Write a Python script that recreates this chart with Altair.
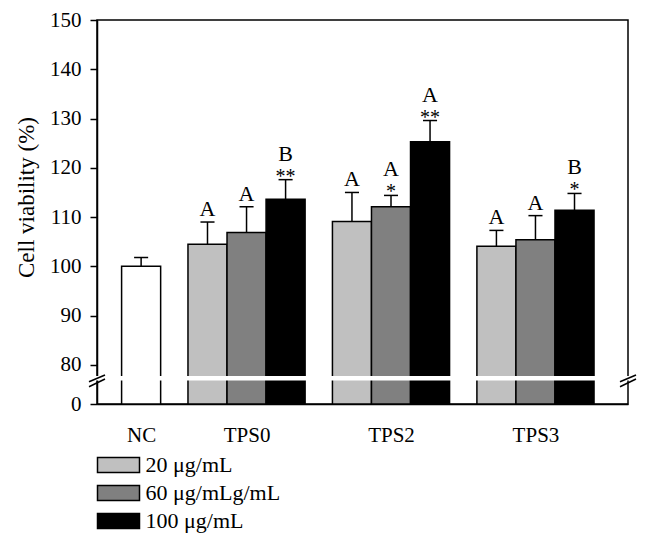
import altair as alt
import pandas as pd

# ---------------- data ----------------
groups = ["TPS0", "TPS2", "TPS3"]
series = ["20 μg/mL", "60 μg/mLg/mL", "100 μg/mL"]
colors = ["#c0c0c0", "#808080", "#000000"]

mean_20 = [104.5, 109.1, 104.1]
mean_60 = [106.9, 112.1, 105.4]
mean_100 = [113.6, 125.3, 111.4]
sd_20 = [4.5, 5.9, 3.2]
sd_60 = [5.2, 2.3, 4.9]
sd_100 = [4.0, 4.3, 3.4]
letter_20 = ["A", "A", "A"]
letter_60 = ["A", "A", "A"]
letter_100 = ["B", "A", "B"]
stars_20 = ["", "", ""]
stars_60 = ["", "*", ""]
stars_100 = ["**", "**", "*"]

nc_label = ["NC"]
nc_mean = [100.0]
nc_sd = [1.8]

# broken axis: 0..80 squeezed into a short segment
D0 = 72.07
def disp(v):
    return v if v >= 80 else D0 + v * (80 - D0) / 80

ytick_real = [0, 20] + list(range(80, 151, 5))
yvals = [disp(v) for v in ytick_real]

means = [mean_20, mean_60, mean_100]
sds = [sd_20, sd_60, sd_100]
letters = [letter_20, letter_60, letter_100]
stars = [stars_20, stars_60, stars_100]

rows = []
for gi, g in enumerate(groups):
    for si, s in enumerate(series):
        rows.append(dict(group=g, gi=gi, series=s, si=si, mean=means[si][gi],
                         sd=sds[si][gi], letter=letters[si][gi], stars=stars[si][gi]))
df = pd.DataFrame(rows)
nc_df = pd.DataFrame({"group": nc_label, "mean": nc_mean, "sd": nc_sd})

FONT = "Liberation Serif"

group_centers = [1.13, 3.83, 7.53, 11.23]
xscale = alt.Scale(domain=[0, 13.6], nice=False, zero=False)
xaxis = alt.Axis(title=None, values=group_centers, ticks=False, tickSize=0, labelPadding=20,
                 labelExpr="datum.value < 2 ? 'NC' : datum.value < 5 ? 'TPS0' : datum.value < 9 ? 'TPS2' : 'TPS3'",
                 labelFontSize=21, grid=False)
yscale = alt.Scale(domain=[D0, 150], nice=False, zero=False)
yaxis = alt.Axis(title="Cell viability (%)", values=yvals, grid=False,
                 labelExpr="datum.value < 73 ? '0' : (datum.value % 10 == 0 ? '' + datum.value : '')",
                 tickSize={"condition": {"test": "datum.value < 73 || datum.value % 10 == 0", "value": 7}, "value": 4},
                 labelPadding=9, labelFontSize=21, titleFontSize=23, titleFontWeight="normal",
                 titleX=-71, titleY=177, titleAngle=-90, titleBaseline="middle", titleAlign="center",
                 zindex=0)

def X(f):
    return alt.X(f, type="quantitative", scale=xscale, axis=xaxis)

def Y(f):
    return alt.Y(f, type="quantitative", scale=yscale, axis=yaxis)

def fmap(v):
    return f"(datum.{v} >= 80 ? datum.{v} : {D0} + datum.{v} * {(80 - D0) / 80})"

base = alt.Chart(df).transform_calculate(
    x0="0.63 + 1 + 0.7 + datum.gi * 3.7 + datum.si",
).transform_calculate(
    x1="datum.x0 + 1", xc="datum.x0 + 0.5",
    cl="datum.x0 + 0.32", cr="datum.x0 + 0.68",
    raw_top="datum.mean + datum.sd", zero_v="0",
).transform_calculate(
    ymean=fmap("mean"), ytop=fmap("raw_top"), ybase=fmap("zero_v"),
)

nc_base = alt.Chart(nc_df).transform_calculate(
    x0="0.63", x1="1.63", xc="1.13", cl="0.95", cr="1.31",
    raw_top="datum.mean + datum.sd", zero_v="0",
).transform_calculate(
    ymean=fmap("mean"), ytop=fmap("raw_top"), ybase=fmap("zero_v"),
)

# wide rectangular swatch: 42 x 15 px, drawn with a 15px symbol size
legend = alt.Legend(title=None, orient="none", legendX=10.5, legendY=434, direction="vertical",
                    symbolType="M-2.8,-1L2.8,-1L2.8,1L-2.8,1Z", symbolSize=225,
                    symbolStrokeColor="black", symbolStrokeWidth=1.5, symbolOpacity=1,
                    labelFont=FONT, labelFontSize=22, labelColor="black", labelOffset=16,
                    rowPadding=6, padding=0, offset=0)

bars = base.mark_bar(stroke="black", strokeWidth=1.5, opacity=1).encode(
    x=X("x0"), x2="x1:Q", y=Y("ymean"), y2="ybase:Q",
    color=alt.Color("series:N", scale=alt.Scale(domain=series, range=colors), legend=legend),
)
err = base.mark_rule(color="black", strokeWidth=1.5).encode(x=X("xc"), y=Y("ymean"), y2="ytop:Q")
cap = base.mark_rule(color="black", strokeWidth=1.5).encode(x=X("cl"), x2="cr:Q", y=Y("ytop"))

nc_bar = nc_base.mark_bar(fill="white", stroke="black", strokeWidth=1.5).encode(
    x=X("x0"), x2="x1:Q", y=Y("ymean"), y2="ybase:Q")
nc_err = nc_base.mark_rule(color="black", strokeWidth=1.5).encode(x=X("xc"), y=Y("ymean"), y2="ytop:Q")
nc_cap = nc_base.mark_rule(color="black", strokeWidth=1.5).encode(x=X("cl"), x2="cr:Q", y=Y("ytop"))

star_txt = base.transform_filter("datum.stars != ''").mark_text(
    font=FONT, fontSize=20, color="black", baseline="alphabetic", dy=3).encode(
    x=X("xc"), y=Y("ytop"), text="stars:N")
letter_star = base.transform_filter("datum.stars != ''").mark_text(
    font=FONT, fontSize=22, color="black", baseline="alphabetic", dy=-19).encode(
    x=X("xc"), y=Y("ytop"), text="letter:N")
letter_plain = base.transform_filter("datum.stars == ''").mark_text(
    font=FONT, fontSize=22, color="black", baseline="alphabetic", dy=-6).encode(
    x=X("xc"), y=Y("ytop"), text="letter:N")

band = alt.Chart(nc_df).mark_rect(color="white", opacity=1).encode(
    x=alt.value(-3), x2=alt.value(534), y=alt.datum(77.76), y2=alt.datum(76.85))

def slash(xl, xr, yl, yr):
    return alt.Chart(nc_df).mark_rule(color="black", strokeWidth=1.5).encode(
        x=alt.value(xl), x2=alt.value(xr), y=alt.datum(yl), y2=alt.datum(yr))

W = 531
slashes = [
    slash(-8, 8, 76.59, 77.95), slash(-8, 8, 75.57, 77.14),
    slash(W - 8, W + 8, 76.59, 77.95), slash(W - 8, W + 8, 75.57, 77.14),
]

chart = alt.layer(
    nc_bar, bars, nc_err, err, nc_cap, cap, band, *slashes, star_txt, letter_star, letter_plain
).properties(
    width=W, height=384,
    autosize=alt.AutoSizeParams(type="none"),
    padding={"left": 89, "top": 12, "right": 14, "bottom": 135},
).configure_view(
    stroke="black", strokeWidth=1.5
).configure_axis(
    domainColor="black", domainWidth=1.5, tickColor="black", tickWidth=1.5,
    labelColor="black", titleColor="black", labelFont=FONT, titleFont=FONT,
)

chart.save("out.html", embed_options={"renderer": "svg", "actions": False})
